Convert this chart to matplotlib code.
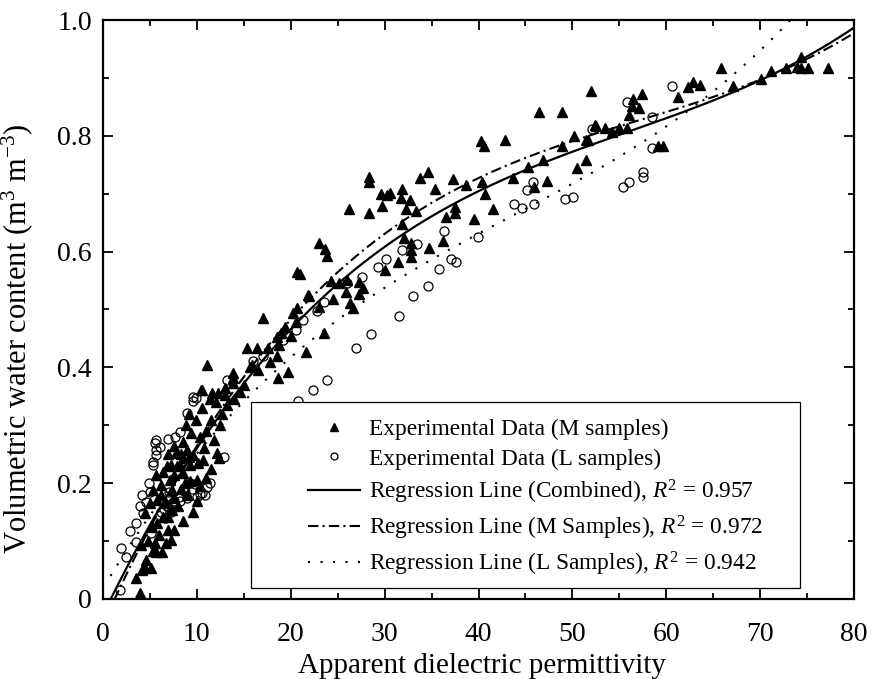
import matplotlib
matplotlib.use('Agg')
import matplotlib.pyplot as plt
import numpy as np
from matplotlib.patches import Rectangle
from matplotlib.lines import Line2D
from matplotlib.ticker import MultipleLocator, FixedLocator, FixedFormatter

plt.rcParams['font.family'] = ['Liberation Serif', 'DejaVu Serif']
plt.rcParams['mathtext.fontset'] = 'custom'
plt.rcParams['mathtext.rm'] = 'Liberation Serif'
plt.rcParams['mathtext.it'] = 'Liberation Serif:italic'

# ---- data: M samples (triangles) ----
m_x = [3.9, 3.5, 4.2, 4.5, 5.1, 4.6, 5.3, 5.6, 6.3, 4.1, 4.8, 5.5, 6.0, 6.7, 7.2, 6.9, 7.6, 5.2, 5.8, 6.4,
       6.9, 7.3, 4.5, 5.0, 5.8, 6.2, 5.3, 6.7, 7.6, 8.5, 6.2, 7.1, 7.4, 5.6, 6.4, 7.6, 8.5, 8.7, 8.0, 9.0,
       8.3, 7.9, 6.8, 9.6, 10.0, 10.3, 9.3, 10.0, 11.0, 11.5, 10.6, 9.2, 8.3,
       7.2, 8.2, 9.3, 10.1, 7.8, 8.5, 9.0, 9.6, 8.5, 9.4, 10.3, 9.9, 10.8, 11.0, 11.8, 11.5, 12.1, 12.4,
       12.5, 12.7, 13.2, 12.0, 11.4, 10.4, 10.5, 8.8, 9.2, 7.6, 6.9,
       11.1, 13.8, 13.8, 13.8, 10.5, 11.6, 12.2, 13.0, 14.6, 13.0, 14.0, 15.0, 16.5, 15.9, 15.7, 17.8, 18.5,
       15.3, 16.4, 17.6, 18.8, 18.5, 17.0, 19.4, 20.6, 20.2, 20.7, 21.8, 20.7, 21.6, 19.7, 18.6, 19.0, 20.0,
       52.0, 46.4, 48.9, 52.4, 50.2, 51.5, 40.3, 40.6, 42.8, 51.4, 50.5, 46.9, 45.3, 47.3, 28.3, 28.3, 33.8,
       34.6, 37.3, 35.4, 38.7, 40.4, 40.7, 43.7, 45.9, 29.6, 30.2, 30.6, 31.9, 31.7, 32.7, 29.7, 32.3, 33.3,
       26.2, 28.3, 36.5, 37.5, 37.5, 41.5, 39.5, 31.9, 32.1, 23.0, 23.6, 23.9, 36.2, 32.8, 32.8, 32.8, 34.7,
       31.4, 30.0, 21.9, 24.3, 25.1, 26.0, 27.3, 27.7, 25.9, 27.3, 24.5, 26.3, 26.6, 23.0, 23.5, 21.0,
       65.8, 77.2, 62.3, 62.8, 63.6, 61.2, 57.4, 56.5, 56.3, 57.1, 56.0, 55.8, 55.0, 54.2, 53.5, 52.5, 51.7,
       48.9, 59.1, 59.7, 67.1, 70.1, 71.2, 72.8, 73.9, 74.4, 74.4, 75.1]
m_y = [0.010, 0.036, 0.050, 0.054, 0.054, 0.067, 0.083, 0.081, 0.081, 0.093, 0.100, 0.097, 0.110, 0.097,
       0.102, 0.119, 0.119, 0.125, 0.131, 0.142, 0.142, 0.154, 0.149, 0.166, 0.171, 0.180, 0.188, 0.166,
       0.175, 0.135, 0.197, 0.205, 0.188, 0.214, 0.219, 0.214, 0.217, 0.200, 0.160, 0.180, 0.190, 0.230,
       0.230, 0.150, 0.170, 0.195, 0.204, 0.206, 0.209, 0.225, 0.240, 0.245, 0.250,
       0.231, 0.231, 0.231, 0.235, 0.252, 0.244, 0.257, 0.249, 0.271, 0.287, 0.280, 0.309, 0.260, 0.290,
       0.275, 0.310, 0.252, 0.243, 0.300, 0.320, 0.335, 0.340, 0.345, 0.361, 0.330, 0.300, 0.320, 0.265,
       0.250,
       0.404, 0.390, 0.382, 0.373, 0.361, 0.356, 0.356, 0.364, 0.358, 0.352, 0.345, 0.370, 0.395, 0.404,
       0.401, 0.409, 0.420, 0.434, 0.434, 0.434, 0.439, 0.453, 0.485, 0.470, 0.478, 0.494, 0.503, 0.525,
       0.565, 0.427, 0.392, 0.382, 0.460, 0.455,
       0.877, 0.841, 0.841, 0.819, 0.800, 0.793, 0.791, 0.782, 0.793, 0.758, 0.744, 0.758, 0.746, 0.722,
       0.729, 0.720, 0.727, 0.737, 0.725, 0.708, 0.715, 0.720, 0.699, 0.727, 0.712, 0.699, 0.698, 0.701,
       0.708, 0.693, 0.689, 0.679, 0.674, 0.670, 0.674, 0.667, 0.660, 0.667, 0.677, 0.674, 0.656, 0.648,
       0.624, 0.615, 0.604, 0.592, 0.618, 0.615, 0.603, 0.591, 0.606, 0.582, 0.568, 0.523, 0.549, 0.546,
       0.551, 0.547, 0.537, 0.530, 0.527, 0.518, 0.511, 0.503, 0.504, 0.459, 0.561,
       0.917, 0.917, 0.884, 0.893, 0.888, 0.867, 0.872, 0.864, 0.851, 0.848, 0.836, 0.813, 0.813, 0.807,
       0.813, 0.817, 0.793, 0.782, 0.782, 0.782, 0.886, 0.898, 0.912, 0.917, 0.919, 0.936, 0.917, 0.917]

# ---- data: L samples (circles) ----
l_x = [1.8, 1.9, 2.4, 3.5, 3.5, 4.3, 4.6, 5.0, 4.9, 5.1, 5.3, 5.3, 5.6, 5.6, 6.1, 5.6, 5.5, 6.9, 7.7,
       8.2, 8.9, 9.6, 9.9, 8.1, 7.6, 8.2, 9.3, 9.5, 10.5, 11.1, 10.3, 10.0, 8.7, 9.8, 6.8, 7.2, 6.5, 12.9,
       13.2, 9.6, 16.0, 17.0, 19.2, 20.6, 21.3, 22.8, 23.5, 20.8, 22.4, 23.9, 2.9, 3.9, 4.2, 6.2, 6.6,
       7.0, 7.4, 8.6, 9.0, 10.9, 11.4,
       26.0, 27.6, 29.3, 30.1, 31.9, 33.4, 34.6, 33.0, 31.5, 28.5, 27.0, 35.8, 37.1, 37.6, 36.3, 39.9, 43.8,
       44.6, 45.9, 45.2, 45.8, 49.2, 50.1, 52.1, 55.4, 56.0, 57.5, 57.5, 58.5, 58.5, 55.8, 60.6]
l_y = [0.016, 0.088, 0.073, 0.098, 0.131, 0.149, 0.168, 0.185, 0.200, 0.114, 0.231, 0.237, 0.249, 0.257,
       0.263, 0.275, 0.270, 0.276, 0.280, 0.288, 0.321, 0.342, 0.347, 0.176, 0.170, 0.170, 0.200, 0.190,
       0.183, 0.194, 0.181, 0.176, 0.185, 0.199, 0.160, 0.150, 0.155, 0.245, 0.378, 0.349, 0.411, 0.420,
       0.447, 0.465, 0.482, 0.497, 0.513, 0.342, 0.361, 0.378, 0.118, 0.160, 0.180, 0.150, 0.140, 0.185,
       0.165, 0.190, 0.175, 0.180, 0.200,
       0.546, 0.556, 0.573, 0.587, 0.603, 0.613, 0.541, 0.523, 0.489, 0.458, 0.433, 0.570, 0.587, 0.582,
       0.636, 0.625, 0.682, 0.675, 0.682, 0.706, 0.720, 0.691, 0.694, 0.812, 0.711, 0.720, 0.738, 0.729,
       0.779, 0.833, 0.858, 0.886]

# ---- regression curves: cubic coefficients (highest power first) ----
coef_combined = [2.9750e-06, -4.9730e-04, 3.3419e-02, -2.7132e-02]
coef_m = [3.1717e-06, -5.4326e-04, 3.5925e-02, -4.3757e-02]
coef_l = [3.2762e-06, -4.2844e-04, 2.7208e-02, 1.8426e-02]

labels = ['Experimental Data (M samples)', 'Experimental Data (L samples)',
          'Regression Line (Combined), $R^2$ = 0.957',
          'Regression Line (M Samples), $R^2$ = 0.972',
          'Regression Line (L Samples), $R^2$ = 0.942']
y_tick_labels = ['0', '0.2', '0.4', '0.6', '0.8', '1.0']
y_ticks = [0, 0.2, 0.4, 0.6, 0.8, 1.0]

fig = plt.figure(figsize=(8.72, 6.79), dpi=100)
ax = fig.add_axes([103/872, 80/679, 751/872, 579/679])

ax.plot(m_x, m_y, linestyle='none', marker='^', color='k', markersize=7.5, zorder=2)
ax.plot(l_x, l_y, linestyle='none', marker='o', markerfacecolor='none', markeredgecolor='k',
        markersize=6.5, markeredgewidth=0.9, zorder=2)

xs = np.linspace(0.5, 80, 400)
ax.plot(xs, np.polyval(coef_combined, xs), color='k', lw=1.6, zorder=3)
xs_m = np.linspace(1.2, 80, 400)
ax.plot(xs_m, np.polyval(coef_m, xs_m), color='k', lw=1.5, dashes=(5, 2, 1, 2), zorder=3)
xs_l = np.linspace(0.8, 80, 400)
ax.plot(xs_l, np.polyval(coef_l, xs_l), color='k', lw=1.5, dashes=(1, 5), zorder=3)

ax.set_xlim(0, 80)
ax.set_ylim(0, 1.0)
ax.xaxis.set_major_locator(MultipleLocator(10))
ax.xaxis.set_minor_locator(MultipleLocator(5))
ax.yaxis.set_major_locator(FixedLocator(y_ticks))
ax.yaxis.set_major_formatter(FixedFormatter(y_tick_labels))
ax.yaxis.set_minor_locator(MultipleLocator(0.1))
ax.tick_params(which='both', direction='in', top=True, right=True, labelsize=20, width=1.3)
ax.tick_params(which='major', length=7.5)
ax.tick_params(which='minor', length=4)
ax.tick_params(axis='x', which='major', pad=16.5)
ax.tick_params(axis='y', which='major', pad=8)
for s in ax.spines.values():
    s.set_linewidth(1.6)

ax.set_xlabel('Apparent dielectric permittivity', fontsize=21)
ax.xaxis.set_label_coords(0.505, -0.094)
ax.set_ylabel('Volumetric water content (m$^3$ m$^{-3}$)', fontsize=22)
ax.yaxis.set_label_coords(-0.09, 0.45)

rect = Rectangle((0.197, 0.019), 0.731, 0.321, transform=ax.transAxes, facecolor='white',
                 edgecolor='k', linewidth=0.9, zorder=4)
ax.add_patch(rect)

handles = [Line2D([], [], linestyle='none', marker='^', color='k', markersize=6),
           Line2D([], [], linestyle='none', marker='o', markerfacecolor='none', markeredgecolor='k',
                  markersize=5, markeredgewidth=0.9),
           Line2D([], [], color='k', lw=1.6),
           Line2D([], [], color='k', lw=1.5, dashes=(5, 2, 1, 2)),
           Line2D([], [], color='k', lw=1.5, dashes=(1, 5))]
leg = ax.legend(handles, labels, loc='upper left', bbox_to_anchor=(0.273, 0.311), frameon=False,
                fontsize=16.8, handlelength=2.23, handletextpad=0.39, labelspacing=0.34, borderpad=0,
                borderaxespad=0)
leg.set_zorder(5)

fig.savefig('out.png', dpi=100)
